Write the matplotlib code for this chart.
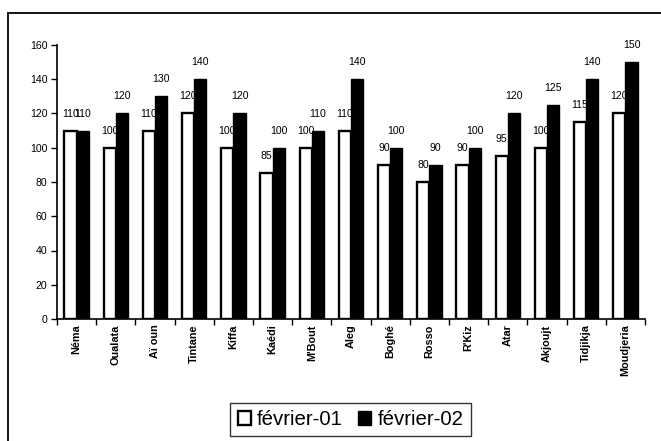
import matplotlib
matplotlib.use("Agg")
import matplotlib.pyplot as plt
from matplotlib.patches import Rectangle
import numpy as np

plt.rcParams['font.family'] = ['Liberation Sans', 'DejaVu Sans']

categories = ["Néma", "Oualata", "Aï oun", "Tintane", "Kiffa", "Kaédi", "M'Bout",
              "Aleg", "Boghé", "Rosso", "R'Kiz", "Atar", "Akjoujt", "Tidjikja", "Moudjeria"]
feb01 = [110, 100, 110, 120, 100, 85, 100, 110, 90, 80, 90, 95, 100, 115, 120]
feb02 = [110, 120, 130, 140, 120, 100, 110, 140, 100, 90, 100, 120, 125, 140, 150]
series_names = ["février-01", "février-02"]
yticks = [0, 20, 40, 60, 80, 100, 120, 140, 160]

W, H = 661, 441
fig = plt.figure(figsize=(W / 100, H / 100), dpi=100)
ax = fig.add_axes([57 / W, 1 - 319 / H, (645 - 57) / W, (319 - 45) / H])

x = np.arange(len(categories))
w = 0.31
b1 = ax.bar(x - w / 2, feb01, w, facecolor='white', edgecolor='black', linewidth=1.7, zorder=2,
            label=series_names[0])
b2 = ax.bar(x + w / 2, feb02, w, facecolor='black', edgecolor='black', linewidth=1.0, zorder=4,
            label=series_names[1])

for xi, v in zip(x, feb01):
    ax.annotate(str(v), (xi - w / 2, v), xytext=(0, 14), textcoords='offset pixels',
                ha='center', va='baseline', fontsize=7.6, zorder=3, annotation_clip=False)
for xi, v in zip(x, feb02):
    ax.annotate(str(v), (xi + w / 2, v), xytext=(0, 14), textcoords='offset pixels',
                ha='center', va='baseline', fontsize=7.6, zorder=5, annotation_clip=False)

ax.set_xlim(-0.5, len(categories) - 0.5)
ax.set_ylim(0, 160)
ax.set_yticks(yticks)
ax.set_yticklabels([str(t) for t in yticks], fontsize=7.6)
ax.set_xticks(x)
ax.set_xticklabels(categories, rotation=90, fontsize=7.8, fontweight='bold')
ax.tick_params(axis='x', which='major', length=0, pad=4)
ax.set_xticks(np.arange(len(categories) + 1) - 0.5, minor=True)
ax.tick_params(axis='x', which='minor', length=4, width=1, direction='out')
ax.tick_params(axis='y', length=4, width=1, direction='out', pad=3)
for s in ['top', 'right']:
    ax.spines[s].set_visible(False)
for s in ['left', 'bottom']:
    ax.spines[s].set_linewidth(1.2)
    ax.spines[s].set_zorder(6)

leg = fig.legend(handles=[b1, b2], labels=series_names, loc='center',
                 bbox_to_anchor=(350.5 / W, 1 - 419.5 / H), ncol=2, fontsize=14.7,
                 frameon=True, fancybox=False, shadow=False, edgecolor='black',
                 handlelength=0.65, handleheight=0.65, handletextpad=0.3,
                 columnspacing=0.75, borderpad=0.35, borderaxespad=0)
leg.get_frame().set_linewidth(1.0)

fig.patches.append(Rectangle((8 / W, -0.1), 1.2, 1 - 13 / H + 0.1, transform=fig.transFigure,
                             fill=False, edgecolor='black', linewidth=1.3))

fig.savefig("out.png", dpi=100)
